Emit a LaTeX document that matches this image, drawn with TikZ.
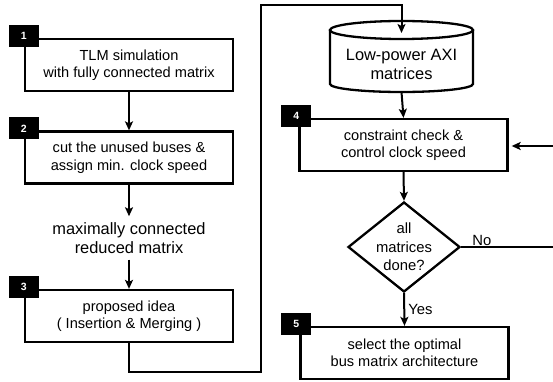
\documentclass[tikz,border=0pt]{standalone}
\usepackage{fontspec}
\setmainfont{Liberation Sans}
\usetikzlibrary{arrows.meta,shapes.geometric}
\begin{document}
\begin{tikzpicture}[x=1pt,y=-1pt,
  stepbox/.style={draw,line width=2.3pt,minimum width=208pt,minimum height=52pt,
    inner sep=0pt,align=center,font=\fontsize{14.6}{17.5}\selectfont},
  tag/.style={fill=black,text=white,font=\bfseries\fontsize{10.5}{12}\selectfont,
    minimum width=30pt,minimum height=22pt,inner sep=0pt},
  flow/.style={line width=2pt,-{Stealth[length=9pt,width=8pt,inset=2pt]}},
  link/.style={line width=2pt},
  plain/.style={align=center,inner sep=0pt}]
\useasboundingbox (0,0) rectangle (553,382);
\clip (0,0) rectangle (553,382);

% left column
\node[stepbox] (b1) at (129,65) {TLM simulation\\with fully connected matrix};
\node[stepbox] (b2) at (129,157.5) {cut the unused buses \&\\assign min. clock speed};
\node[plain,font=\fontsize{16.4}{19}\selectfont,inner sep=6pt] (mid) at (129,238)
  {maximally connected\\reduced matrix};
\node[stepbox] (b3) at (129,316) {proposed idea\\( Insertion \& Merging )};

% right column
\node[plain,font=\fontsize{16.4}{19}\selectfont] (db) at (401.5,64) {Low-power AXI\\matrices};
\draw[line width=2.3pt] (330,30) -- (330,84) arc[start angle=180,end angle=360,x radius=71.5pt,y radius=8pt] -- (473,30);
\draw[line width=2.3pt] (401.5,30) ellipse[x radius=71.5pt,y radius=9pt];
\coordinate (dbtop) at (401.5,33);
\coordinate (dbbot) at (401.5,92);

\node[stepbox] (b4) at (403.5,145) {constraint check \&\\control clock speed};
\node[diamond,draw,line width=2.3pt,minimum width=112pt,minimum height=90pt,inner sep=0pt]
  (dec) at (404,247) {};
\node[plain,font=\fontsize{14.8}{18.5}\selectfont] (dect) at (dec.center) {all\\matrices\\done?};
\node[stepbox] (b5) at (404.5,353) {select the optimal\\bus matrix architecture};

% step tags
\node[tag] at ([yshift=2pt]b1.north west) {1};
\node[tag] at ([yshift=2pt]b2.north west) {2};
\node[tag] at ([yshift=2pt]b3.north west) {3};
\node[tag] at ([xshift=-2pt,yshift=2pt]b4.north west) {4};
\node[tag] at ([xshift=-3pt,yshift=2pt]b5.north west) {5};

% connectors
\draw[flow] (b1.south) -- (b2.north);
\draw[flow] (b2.south) -- (mid.north);
\draw[flow] (mid.south) -- (b3.north);

\coordinate (c1) at (261,372);
\coordinate (c2) at (261,5);
\draw[flow] (b3.south) |- (c1) -- (c2) -| (dbtop);

\draw[flow] (dbbot) -- (b4.north);
\draw[flow] (b4.south) -- (dec.north);

\coordinate (r1) at (560,247);
\coordinate (r2) at (560,146);
\draw[flow,shorten >=3pt] (dec.east) -- (r1) -- (r2) -- (b4.east |- r2);
\node[anchor=south west,inner sep=1pt,font=\fontsize{14.8}{17}\selectfont] (no) at ([xshift=10pt]dec.east) {No};

\draw[flow] (dec.south) -- node[right,inner sep=3pt,font=\fontsize{14.8}{17}\selectfont] (yes) {Yes} (b5.north);
\end{tikzpicture}
\end{document}
